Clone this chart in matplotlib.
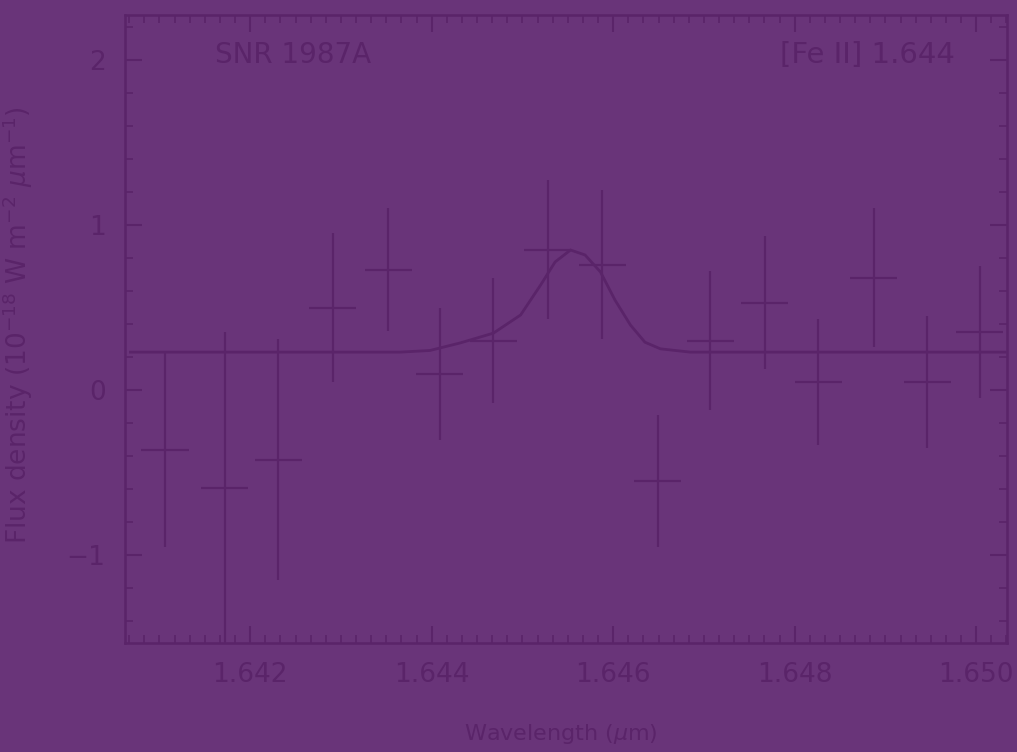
import matplotlib
matplotlib.use("Agg")
import matplotlib.pyplot as plt
from matplotlib.ticker import AutoMinorLocator

# couleurs
bg = "#693479"
ink = "#5a2469"

# points mesures (longueur d'onde en micron, flux, erreur)
wave = [1.64106, 1.64172, 1.64231, 1.64291, 1.64352, 1.64409, 1.64468, 1.64528,
        1.64588, 1.64649, 1.64707, 1.64767, 1.64826, 1.64887, 1.64946, 1.65004]
flux = [-0.36, -0.59, -0.42, 0.50, 0.73, 0.10, 0.30, 0.85,
        0.76, -0.55, 0.30, 0.53, 0.05, 0.68, 0.05, 0.35]
err = [0.59, 0.94, 0.73, 0.45, 0.37, 0.40, 0.38, 0.42,
       0.45, 0.40, 0.42, 0.40, 0.38, 0.42, 0.40, 0.40]

# courbe du modele (lue point par point)
model_wave = [1.64068, 1.64365, 1.64398, 1.64431, 1.64468, 1.64498, 1.64520, 1.64536,
              1.64553, 1.64569, 1.64586, 1.64602, 1.64619, 1.64635, 1.64652, 1.64685, 1.65032]
model_flux = [0.23, 0.23, 0.24, 0.285, 0.345, 0.455, 0.636, 0.776,
              0.848, 0.818, 0.715, 0.545, 0.394, 0.29, 0.25, 0.23, 0.23]

xticks = [1.642, 1.644, 1.646, 1.648, 1.650]
yticks = [-1, 0, 1, 2]

plt.rcParams["font.family"] = ["DejaVu Sans"]
fig = plt.figure(figsize=(10.17, 7.52), dpi=100, facecolor=bg)
ax = fig.add_axes([0.1229, 0.145, 0.8673, 0.835], facecolor=bg)

ax.plot(model_wave, model_flux, color=ink, lw=2.0)
ax.errorbar(wave, flux, yerr=err, xerr=0.00026, fmt="none", ecolor=ink, elinewidth=1.6)

ax.set_xlim(1.64062, 1.65034)
ax.set_ylim(-1.53, 2.27)
ax.set_xticks(xticks)
ax.set_xticklabels(["%.3f" % v for v in xticks])
ax.set_yticks(yticks)
ax.xaxis.set_minor_locator(AutoMinorLocator(12))
ax.yaxis.set_minor_locator(AutoMinorLocator(5))
ax.tick_params(which="both", direction="in", top=True, right=True, colors=ink,
               labelcolor=ink, labelsize=19)
ax.tick_params(which="major", length=12, width=1.5, pad=14)
ax.tick_params(which="minor", length=6, width=1.2)
for s in ax.spines.values():
    s.set_color(ink)
    s.set_linewidth(1.8)

ax.text(0.102, 0.936, "SNR 1987A", transform=ax.transAxes, fontsize=20,
        color=ink, va="center", ha="left")
ax.text(0.941, 0.936, "[Fe II] 1.644", transform=ax.transAxes, fontsize=21,
        color=ink, va="center", ha="right")

fig.text(0.017, 0.568, "Flux density (10$^{-18}$ W m$^{-2}$ $\\mu$m$^{-1}$)", rotation=90,
         fontsize=19, color=ink, va="center", ha="center")
fig.text(0.551, 0.024, "Wavelength ($\\mu$m)", fontsize=16, color=ink,
         ha="center", va="center")

fig.savefig("out.png", dpi=100, facecolor=bg)
